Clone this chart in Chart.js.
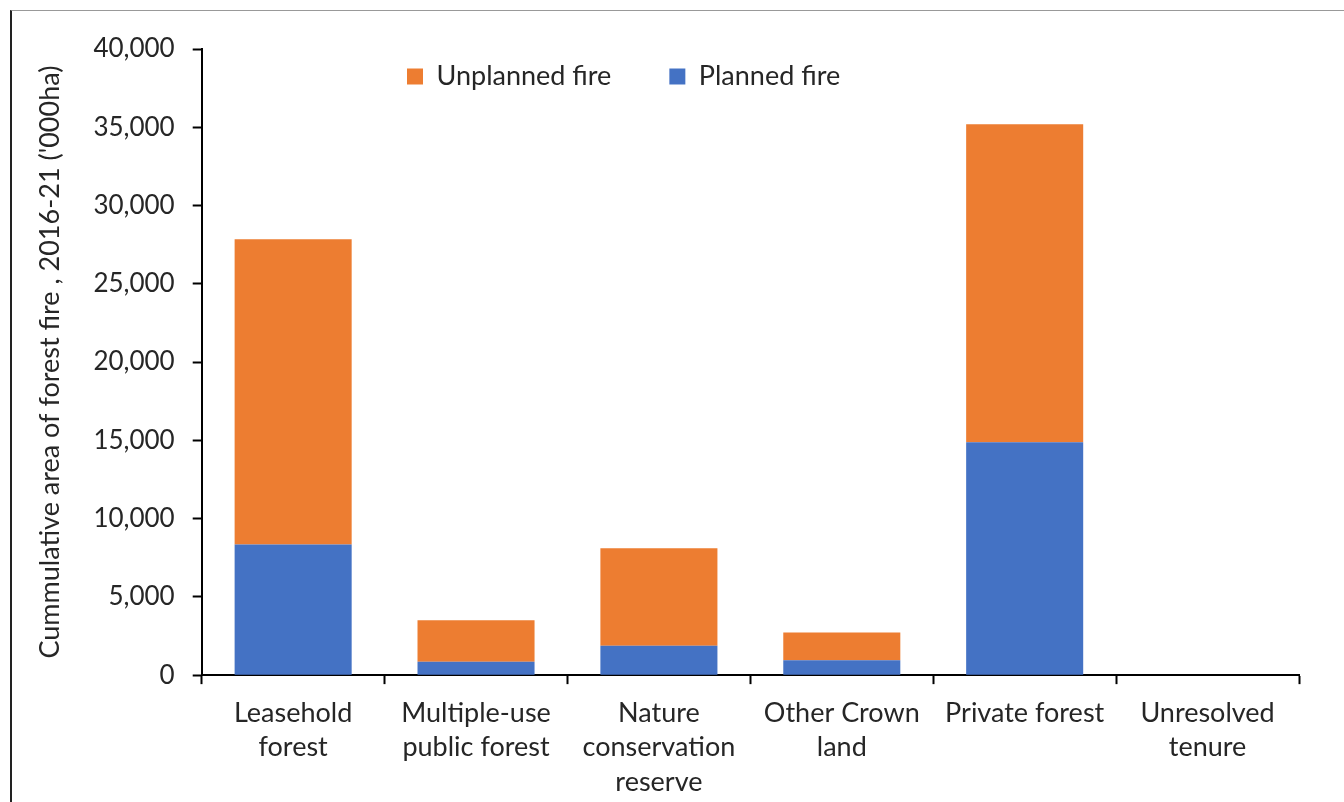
<!DOCTYPE html>
<html>
<head>
<meta charset="utf-8">
<script src="https://cdn.jsdelivr.net/npm/chart.js@4.4.1/dist/chart.umd.min.js"></script>
<style>
    html, body { margin: 0; padding: 0; background: #fff; }
    #frame {
        position: absolute; left: 10px; top: 10px; width: 1334px; height: 792px;
        border-left: 2px solid #222; border-top: 1px solid #999;
        box-sizing: border-box;
    }
    #wrap { position: absolute; left: 0; top: 0; width: 1344px; height: 802px; }
</style>
</head>
<body>
<div id="frame"></div>
<div id="wrap"><canvas id="fireChart" width="1344" height="802"></canvas></div>
<script>
// values in '000 ha
const tenures = [
    ['Leasehold', 'forest'],
    ['Multiple-use', 'public forest'],
    ['Nature', 'conservation', 'reserve'],
    ['Other Crown', 'land'],
    ['Private forest'],
    ['Unresolved', 'tenure']
];
const plannedFire = [8350, 850, 1870, 950, 14870, 0];
const unplannedFire = [19500, 2650, 6230, 1770, 20330, 0];
const yTicks = [0, 5000, 10000, 15000, 20000, 25000, 30000, 35000, 40000];

const FONT = 'Lato';
const TEXT = '#262626';
const LEGEND_PAD = 58;
const PLOT_TOP = 49;

// legend sits inside the plot in the original, so take its height back
// out of the layout and drop it over the chart area afterwards
const legendPlacer = {
    id: 'legendPlacer',
    afterLayout(chart) {
        const lg = chart.legend;
        lg.left = 407 - LEGEND_PAD;
        lg.right = chart.chartArea.right;
        lg.top = 63 - LEGEND_PAD;
        lg.bottom = 63 + 30;
        lg.width = lg.right - lg.left;
        lg.height = lg.bottom - lg.top;
    }
};

const ctx = document.getElementById('fireChart');
const chart = new Chart(ctx, {
    type: 'bar',
    data: {
        labels: tenures,
        datasets: [
            {
                label: 'Planned fire',
                data: plannedFire,
                backgroundColor: '#4472C4',
                borderWidth: 0,
            },
            {
                label: 'Unplanned fire',
                data: unplannedFire,
                backgroundColor: '#ED7D31',
                borderWidth: 0,
            }
        ]
    },
    options: {
        responsive: false,
        animation: false,
        devicePixelRatio: 1,
        layout: { padding: { left: 34, top: PLOT_TOP, right: 45, bottom: -9 } },
        datasets: {
            bar: { categoryPercentage: 1, barPercentage: 0.64 }
        },
        scales: {
            x: {
                stacked: true,
                border: { color: '#000', width: 2 },
                grid: {
                    offset: true,
                    drawOnChartArea: false,
                    drawTicks: true,
                    tickLength: 9,
                    tickWidth: 2,
                    color: '#000'
                },
                ticks: {
                    color: TEXT,
                    maxRotation: 0,
                    autoSkip: false,
                    padding: 12,
                    font: { family: FONT, size: 27, lineHeight: 1.27 }
                }
            },
            y: {
                stacked: true,
                min: 0,
                max: 40000,
                afterBuildTicks: (axis) => {
                    axis.ticks = yTicks.map(v => ({ value: v }));
                },
                border: { color: '#000', width: 2 },
                grid: {
                    drawOnChartArea: false,
                    drawTicks: true,
                    tickLength: 9,
                    tickWidth: 2,
                    color: '#000'
                },
                ticks: {
                    color: TEXT,
                    padding: 18,
                    font: { family: FONT, size: 26 },
                    callback: (v) => v.toLocaleString('en-US')
                },
                title: {
                    display: true,
                    text: "Cummulative area of forest fire , 2016-21 ('000ha)",
                    color: TEXT,
                    font: { family: FONT, size: 27 },
                    padding: { top: 0, bottom: 9 }
                }
            }
        },
        plugins: {
            legend: {
                position: 'top',
                align: 'start',
                reverse: true,
                labels: {
                    boxWidth: 16,
                    boxHeight: 16,
                    padding: LEGEND_PAD,
                    color: TEXT,
                    font: { family: FONT, size: 27 }
                }
            },
            tooltip: { enabled: false }
        }
    },
    plugins: [legendPlacer]
});

// the top legend reserves space above the plot; give it back
chart.options.layout.padding.top += PLOT_TOP - chart.chartArea.top;
chart.update();
</script>
</body>
</html>
